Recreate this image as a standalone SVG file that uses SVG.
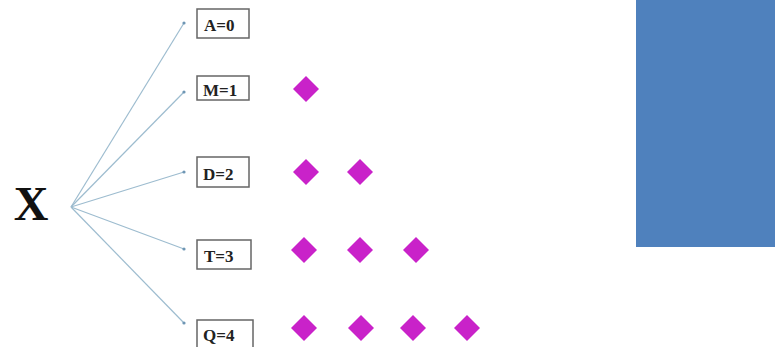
<svg xmlns="http://www.w3.org/2000/svg" width="775" height="347" viewBox="0 0 775 347">
<style>
.box{fill:#fff;stroke:#666;stroke-width:1.5}
.lbl{font-family:"Liberation Serif",serif;font-weight:bold;font-size:17px;fill:#222}
.ln{stroke:#9DBCCF;stroke-width:1.2;fill:none;marker-end:url(#dot)}
.dm{fill:#C922C9}
</style>
<defs>
<marker id="dot" markerWidth="4" markerHeight="4" refX="2" refY="2" markerUnits="userSpaceOnUse"><circle cx="2" cy="2" r="1.6" fill="#6E96B4"/></marker>
<path id="d" d="M0,-13 L13,0 L0,13 L-13,0 Z"/>
</defs>
<rect x="636" y="0" width="139" height="247" fill="#4F81BD"/>
<text x="31" y="220" font-family="'Liberation Serif',serif" font-weight="bold" font-size="48" text-anchor="middle" fill="#111">X</text>
<g id="connectors">
<line class="ln" x1="71" y1="207" x2="184" y2="23"/>
<line class="ln" x1="71" y1="207" x2="184" y2="92"/>
<line class="ln" x1="71" y1="207" x2="184" y2="172"/>
<line class="ln" x1="71" y1="207" x2="184" y2="249"/>
<line class="ln" x1="71" y1="207" x2="184" y2="323"/>
</g>
<g id="nA"><rect class="box" x="197" y="9" width="52" height="29"/><text class="lbl" x="204" y="31">A=0</text></g>
<g id="nM"><rect class="box" x="197" y="76" width="52" height="24"/><text class="lbl" x="203" y="96">M=1</text></g>
<g id="nD"><rect class="box" x="197" y="157" width="52" height="30"/><text class="lbl" x="203" y="180">D=2</text></g>
<g id="nT"><rect class="box" x="197" y="240" width="54" height="29"/><text class="lbl" x="204" y="262">T=3</text></g>
<g id="nQ"><rect class="box" x="197" y="320" width="56" height="30"/><text class="lbl" x="203" y="341">Q=4</text></g>
<g id="diamonds">
<use class="dm" href="#d" x="306" y="89"/>
<use class="dm" href="#d" x="306" y="172"/>
<use class="dm" href="#d" x="360" y="172"/>
<use class="dm" href="#d" x="304" y="250"/>
<use class="dm" href="#d" x="360" y="250"/>
<use class="dm" href="#d" x="416" y="250"/>
<use class="dm" href="#d" x="304" y="328"/>
<use class="dm" href="#d" x="361" y="328"/>
<use class="dm" href="#d" x="413" y="328"/>
<use class="dm" href="#d" x="467" y="328"/>
</g>
</svg>
